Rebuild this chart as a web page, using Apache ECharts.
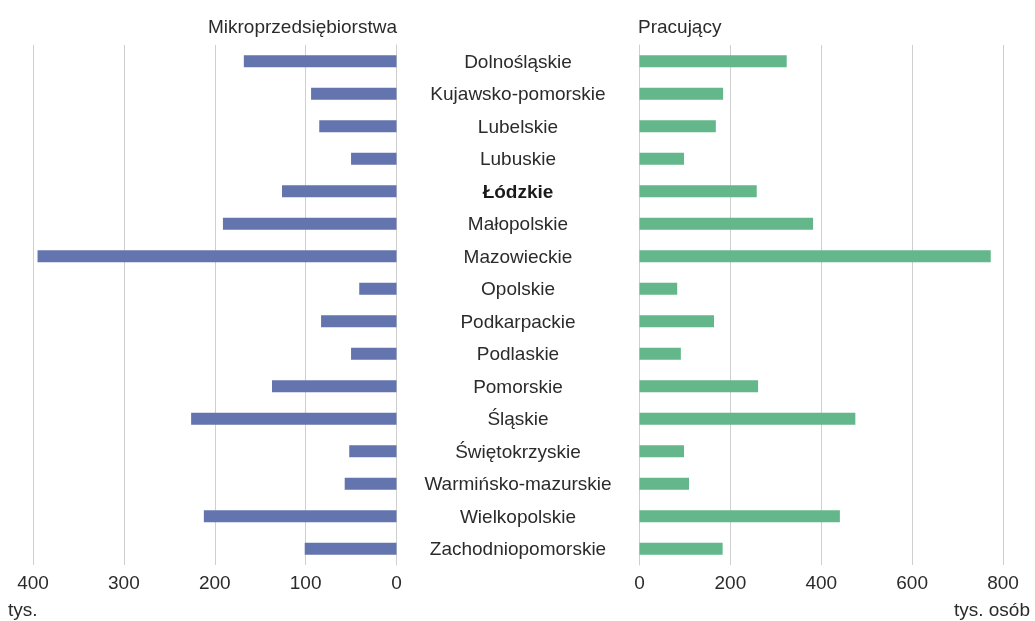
<!DOCTYPE html>
<html>
<head>
<meta charset="utf-8">
<script src="https://cdn.jsdelivr.net/npm/echarts@6/dist/echarts.min.js"></script>
<style>html,body{margin:0;padding:0;background:#fff;}#c{width:1035px;height:621px;}</style>
</head>
<body>
<div id="c"></div>
<script>
const categories = ['Dolnośląskie','Kujawsko-pomorskie','Lubelskie','Lubuskie','Łódzkie','Małopolskie','Mazowieckie','Opolskie','Podkarpackie','Podlaskie','Pomorskie','Śląskie','Świętokrzyskie','Warmińsko-mazurskie','Wielkopolskie','Zachodniopomorskie'];
const mikro = [168, 94, 85, 50, 126, 191, 395, 41, 83, 50, 137, 226, 52, 57, 212, 101];
const pracujacy = [324, 184, 168, 98, 258, 382, 773, 83, 164, 91, 261, 475, 98, 109, 441, 183];
const leftTicks = [0, 100, 200, 300, 400];
const rightTicks = [0, 200, 400, 600, 800];
const titleLeft = 'Mikroprzedsiębiorstwa';
const titleRight = 'Pracujący';
const unitLeft = 'tys.';
const unitRight = 'tys. osób';

const FONT = '"Liberation Sans", Arial, sans-serif';
const TXT = '#2b2b2b';
const chart = echarts.init(document.getElementById('c'));
const axisCommon = {
  axisLine: {show: false}, axisTick: {show: false},
  splitLine: {show: true, lineStyle: {color: '#cfcfcf', width: 1}},
  axisLabel: {color: TXT, fontFamily: FONT, fontSize: 19, margin: 9}
};
chart.setOption({
  animation: false,
  grid: [
    {left: 33, width: 363.5, top: 45, height: 520},
    {left: 639.5, width: 363.5, top: 45, height: 520}
  ],
  xAxis: [
    Object.assign({gridIndex: 0, type: 'value', min: leftTicks[0], max: leftTicks[leftTicks.length-1], interval: 100, inverse: true}, axisCommon),
    Object.assign({gridIndex: 1, type: 'value', min: rightTicks[0], max: rightTicks[rightTicks.length-1], interval: 200}, axisCommon)
  ],
  yAxis: [
    {gridIndex: 0, type: 'category', data: categories, inverse: true, position: 'right',
     axisLine: {show: true, lineStyle: {color: '#cfcfcf'}}, axisTick: {show: false}, axisLabel: {show: false}},
    {gridIndex: 1, type: 'category', data: categories, inverse: true,
     axisLine: {show: true, lineStyle: {color: '#cfcfcf'}}, axisTick: {show: false},
     axisLabel: {color: TXT, fontFamily: FONT, fontSize: 19, align: 'center', margin: 121.5, padding: [3, 0, 0, 0],
       formatter: v => v === 'Łódzkie' ? '{b|' + v + '}' : v,
       rich: {b: {fontWeight: 'bold', fontFamily: FONT, fontSize: 19, color: '#1a1a1a'}}}}
  ],
  series: [
    {type: 'bar', xAxisIndex: 0, yAxisIndex: 0, data: mikro, barWidth: 12, itemStyle: {color: '#6374ae'}},
    {type: 'bar', xAxisIndex: 1, yAxisIndex: 1, data: pracujacy, barWidth: 12, itemStyle: {color: '#63b78b'}}
  ],
  graphic: [
    {type: 'text', right: 1035 - 397, top: 18, style: {text: titleLeft, fontFamily: FONT, fontSize: 19, fill: TXT}},
    {type: 'text', left: 638, top: 18, style: {text: titleRight, fontFamily: FONT, fontSize: 19, fill: TXT}},
    {type: 'text', left: 8, top: 601, style: {text: unitLeft, fontFamily: FONT, fontSize: 19, fill: TXT}},
    {type: 'text', right: 5, top: 601, style: {text: unitRight, fontFamily: FONT, fontSize: 19, fill: TXT}}
  ]
});
</script>
</body>
</html>
